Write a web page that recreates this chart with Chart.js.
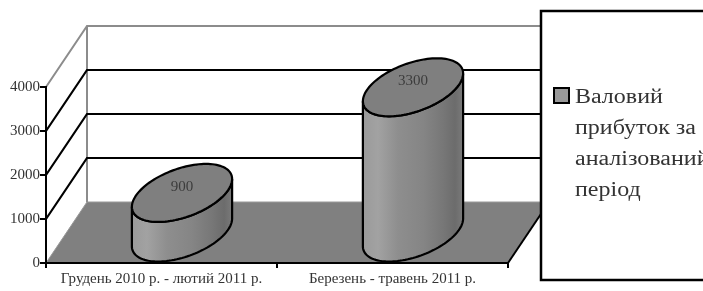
<!DOCTYPE html>
<html>
<head>
<meta charset="utf-8">
<script src="https://cdn.jsdelivr.net/npm/chart.js@4.4.0/dist/chart.umd.min.js"></script>
<style>
  html, body { margin: 0; padding: 0; background: #fff; }
  #wrap { width: 703px; height: 291px; }
</style>
</head>
<body>
<div id="wrap"><canvas id="c" width="703" height="291"></canvas></div>
<script>
// data
let categories = ['Грудень 2010 р. - лютий 2011 р.', 'Березень - травень 2011 р.'];
let values = [900, 3300];
let yTicks = [0, 1000, 2000, 3000, 4000];
let legendText = ['Валовий', 'прибуток за', 'аналізований', 'період'];

// 3d look
let depthX = 41, depthY = -61;   // full depth of the box
let cylRx = 44, cylAx = 24, cylAy = 29;

function ellipsePt(cx, cy, t){
  return [cx + cylRx*Math.cos(t) + cylAx*Math.sin(t), cy - cylAy*Math.sin(t)];
}

const box3d = {
  id: 'box3d',
  beforeDraw(chart){
    let ctx = chart.ctx;
    let a = chart.chartArea;
    let y = chart.scales.y;
    ctx.save();
    ctx.fillStyle = '#fff';
    ctx.fillRect(0, 0, chart.width, chart.height);
    let y0 = y.getPixelForValue(yTicks[0]);
    let yMax = y.getPixelForValue(yTicks[yTicks.length-1]);
    // floor
    ctx.beginPath();
    ctx.moveTo(a.left, y0);
    ctx.lineTo(a.left+depthX, y0+depthY);
    ctx.lineTo(a.right+depthX, y0+depthY);
    ctx.lineTo(a.right, y0);
    ctx.closePath();
    ctx.fillStyle = '#808080';
    ctx.fill();
    ctx.strokeStyle = '#999';
    ctx.lineWidth = 1;
    ctx.stroke();
    ctx.beginPath();
    ctx.moveTo(a.right, y0);
    ctx.lineTo(a.right+depthX, y0+depthY);
    ctx.strokeStyle = '#000';
    ctx.lineWidth = 2;
    ctx.stroke();
    // back wall left edge
    ctx.beginPath();
    ctx.moveTo(a.left+depthX, y0+depthY);
    ctx.lineTo(a.left+depthX, yMax+depthY);
    ctx.strokeStyle = '#8c8c8c';
    ctx.lineWidth = 2;
    ctx.stroke();
    // grid lines: side wall diagonal + back wall
    yTicks.forEach((v, i) => {
      if (i == 0) return;
      let py = y.getPixelForValue(v);
      ctx.beginPath();
      ctx.moveTo(a.left, py);
      ctx.lineTo(a.left+depthX, py+depthY);
      ctx.lineTo(a.right+depthX, py+depthY);
      ctx.strokeStyle = (i == yTicks.length-1) ? '#8c8c8c' : '#000';
      ctx.lineWidth = (i == yTicks.length-1) ? 2 : 2.2;
      ctx.stroke();
    });
    ctx.restore();
  },
  afterDatasetsDraw(chart){
    let ctx = chart.ctx;
    let x = chart.scales.x, y = chart.scales.y;
    ctx.save();
    values.forEach((v, i) => {
      let cx = x.getPixelForValue(i) + depthX/2;
      let cyTop = y.getPixelForValue(v) + depthY/2;
      let cyBot = y.getPixelForValue(0) + depthY/2;
      let t0 = Math.atan2(cylAx, cylRx);
      let n = 60;
      // side
      ctx.beginPath();
      for (let k = 0; k <= n; k++){
        let t = t0 - Math.PI*k/n;
        let p = ellipsePt(cx, cyBot, t);
        if (k == 0) ctx.moveTo(p[0], p[1]); else ctx.lineTo(p[0], p[1]);
      }
      for (let k = 0; k <= n; k++){
        let t = t0 - Math.PI + Math.PI*k/n;
        let p = ellipsePt(cx, cyTop, t);
        ctx.lineTo(p[0], p[1]);
      }
      ctx.closePath();
      let half = Math.sqrt(cylRx*cylRx + cylAx*cylAx);
      let g = ctx.createLinearGradient(cx-half, 0, cx+half, 0);
      g.addColorStop(0, '#9a9a9a');
      g.addColorStop(0.15, '#a2a2a2');
      g.addColorStop(0.35, '#8e8e8e');
      g.addColorStop(0.6, '#858585');
      g.addColorStop(0.8, '#777777');
      g.addColorStop(0.92, '#6c6c6c');
      g.addColorStop(1, '#7a7a7a');
      ctx.fillStyle = g;
      ctx.fill();
      ctx.strokeStyle = '#000';
      ctx.lineWidth = 2.2;
      ctx.stroke();
      // top
      ctx.beginPath();
      for (let k = 0; k <= 2*n; k++){
        let p = ellipsePt(cx, cyTop, Math.PI*k/n);
        if (k == 0) ctx.moveTo(p[0], p[1]); else ctx.lineTo(p[0], p[1]);
      }
      ctx.closePath();
      ctx.fillStyle = '#7f7f7f';
      ctx.fill();
      ctx.stroke();
      // value label
      ctx.fillStyle = '#3c3c3c';
      ctx.font = '15px "Liberation Serif"';
      ctx.textAlign = 'center';
      ctx.textBaseline = 'middle';
      ctx.fillText(String(v), cx, cyTop - 6);
    });
    ctx.restore();
  },
  afterDraw(chart){
    let ctx = chart.ctx;
    ctx.save();
    // legend box
    ctx.fillStyle = '#fff';
    ctx.fillRect(541, 11, 180, 269);
    ctx.strokeStyle = '#000';
    ctx.lineWidth = 2.5;
    ctx.strokeRect(541, 11, 180, 269);
    ctx.fillStyle = '#999';
    ctx.fillRect(554, 88, 15, 15);
    ctx.lineWidth = 2;
    ctx.strokeRect(554, 88, 15, 15);
    ctx.fillStyle = '#333';
    ctx.font = '20px "Liberation Serif"';
    ctx.textAlign = 'left';
    ctx.textBaseline = 'alphabetic';
    // text in the original is a bit wider than the font
    ctx.translate(575, 0);
    ctx.scale(1.2, 1);
    legendText.forEach((s, i) => {
      ctx.fillText(s, 0, 103 + 31*i);
    });
    ctx.restore();
  }
};

Chart.defaults.font.family = '"Liberation Serif", serif';
Chart.defaults.color = '#333';

let chart = new Chart(document.getElementById('c').getContext('2d'), {
  type: 'bar',
  data: {
    labels: categories,
    datasets: [{
      label: legendText.join(' '),
      data: values,
      backgroundColor: 'rgba(0,0,0,0)',
      borderWidth: 0
    }]
  },
  options: {
    responsive: false,
    animation: false,
    devicePixelRatio: 1,
    layout: { padding: { top: 87, right: 195, left: 0, bottom: 0 } },
    plugins: { legend: { display: false }, tooltip: { enabled: false } },
    scales: {
      x: {
        afterFit: (s) => { s.height = 28; },
        grid: { display: true, drawOnChartArea: false, tickLength: 5, color: '#000', lineWidth: 2, offset: true },
        border: { display: true, color: '#000', width: 2 },
        ticks: { font: { size: 15 }, padding: 2, maxRotation: 0, color: '#333' }
      },
      y: {
        min: 0,
        max: 4000,
        afterFit: (s) => { s.width = 46; },
        grid: { display: true, drawOnChartArea: false, tickLength: 6, color: '#000', lineWidth: 2 },
        border: { display: true, color: '#000', width: 2 },
        ticks: { stepSize: 1000, font: { size: 15 }, padding: 0, color: '#333', callback: (v) => String(v) }
      }
    }
  },
  plugins: [box3d]
});
</script>
</body>
</html>
